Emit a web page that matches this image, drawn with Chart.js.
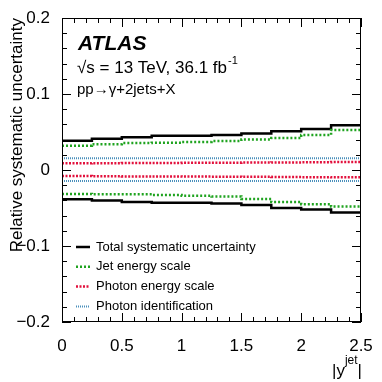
<!DOCTYPE html>
<html>
<head>
<meta charset="utf-8">
<script src="https://cdn.jsdelivr.net/npm/chart.js@4"></script>
<style>
  body { margin: 0; background: #fff; }
  #wrap { width: 382px; height: 382px; }
</style>
</head>
<body>
<div id="wrap"><canvas id="uncChart" width="382" height="382"></canvas></div>
<script>
// bin edges in |y^jet|
const binEdges = [0, 0.25, 0.5, 0.75, 1.0, 1.25, 1.5, 1.75, 2.0, 2.25, 2.5];

// per-bin relative uncertainties (up / down)
const totalUp   = [0.0386, 0.041, 0.043, 0.045, 0.045, 0.046, 0.048, 0.051, 0.054, 0.059];
const totalDown = [-0.0386, -0.040, -0.042, -0.043, -0.043, -0.044, -0.046, -0.050, -0.052, -0.056];
const jesUp     = [0.032, 0.034, 0.0355, 0.036, 0.037, 0.038, 0.040, 0.042, 0.046, 0.0526];
const jesDown   = [-0.0316, -0.032, -0.032, -0.033, -0.034, -0.035, -0.038, -0.042, -0.045, -0.048];
const pesUp     = [0.0088, 0.009, 0.0092, 0.0093, 0.0094, 0.0096, 0.0098, 0.010, 0.0102, 0.0105];
const pesDown   = [-0.008, -0.0082, -0.0084, -0.0086, -0.0087, -0.0088, -0.009, -0.0092, -0.0094, -0.0096];
const pidUp     = [0.0154, 0.0154, 0.0154, 0.0154, 0.0154, 0.0154, 0.0154, 0.0154, 0.0154, 0.0154];
const pidDown   = [-0.0145, -0.0145, -0.0145, -0.0145, -0.0145, -0.0145, -0.0145, -0.0145, -0.0145, -0.0145];

const yTickLabels = ['\u22120.2', '\u22120.1', '0', '0.1', '0.2'];
const xTickLabels = ['0', '0.5', '1', '1.5', '2', '2.5'];

const legendItems = [
  { text: 'Total systematic uncertainty', color: '#000000', dash: [], width: 2.5 },
  { text: 'Jet energy scale', color: '#1fa31f', dash: [2, 2], width: 2.5 },
  { text: 'Photon energy scale', color: '#e2103c', dash: [2, 1.5], width: 2.5 },
  { text: 'Photon identification', color: '#4a8fbb', dash: [1, 1], width: 2 }
];

function histPoints(vals) {
  const pts = vals.map((v, i) => ({ x: binEdges[i], y: v }));
  pts.push({ x: binEdges[binEdges.length - 1], y: vals[vals.length - 1] });
  return pts;
}

function ds(vals, style) {
  return {
    data: histPoints(vals),
    borderColor: style.color,
    borderWidth: style.width,
    borderDash: style.dash,
    stepped: 'before',
    pointRadius: 0,
    fill: false
  };
}

const datasets = [
  ds(pidUp, legendItems[3]), ds(pidDown, legendItems[3]),
  ds(pesUp, legendItems[2]), ds(pesDown, legendItems[2]),
  ds(jesUp, legendItems[1]), ds(jesDown, legendItems[1]),
  ds(totalUp, legendItems[0]), ds(totalDown, legendItems[0])
];

const FONT = '"Liberation Sans", Arial, Helvetica, sans-serif';

const frame = {
  id: 'frame',
  afterDraw(chart) {
    const { ctx, chartArea: a, scales: { x, y } } = chart;
    ctx.save();
    ctx.strokeStyle = '#000';
    ctx.lineWidth = 1;
    ctx.strokeRect(a.left + 0.5, a.top + 0.5, a.right - a.left - 1, a.bottom - a.top - 1);

    // inward ticks on all four sides
    ctx.beginPath();
    for (let i = 0; i <= 25; i++) {
      const px = Math.round(x.getPixelForValue(i * 0.1)) + 0.5;
      const len = (i % 5 === 0) ? 9 : 5;
      ctx.moveTo(px, a.bottom); ctx.lineTo(px, a.bottom - len);
      ctx.moveTo(px, a.top); ctx.lineTo(px, a.top + len);
    }
    for (let i = 0; i <= 20; i++) {
      const py = Math.round(y.getPixelForValue(-0.2 + i * 0.02)) + 0.5;
      const len = (i % 5 === 0) ? 9 : 5;
      ctx.moveTo(a.left, py); ctx.lineTo(a.left + len, py);
      ctx.moveTo(a.right, py); ctx.lineTo(a.right - len, py);
    }
    ctx.stroke();

    // ATLAS labels
    ctx.fillStyle = '#000';
    ctx.textBaseline = 'alphabetic';
    ctx.textAlign = 'left';
    ctx.font = 'italic bold 21px ' + FONT;
    ctx.fillText('ATLAS', 78, 50);
    ctx.font = '17px ' + FONT;
    ctx.fillText('\u221As = 13 TeV, 36.1 fb', 77, 73);
    const w = ctx.measureText('\u221As = 13 TeV, 36.1 fb').width;
    ctx.font = '11px ' + FONT;
    ctx.fillText('-1', 77 + w + 1, 64);
    ctx.font = '15px ' + FONT;
    ctx.fillText('pp\u2192\u03b3+2jets+X', 77, 94);

    // legend
    legendItems.forEach((it, i) => {
      const ly = 247 + i * 19.8;
      ctx.beginPath();
      ctx.strokeStyle = it.color;
      ctx.lineWidth = it.width;
      ctx.setLineDash(it.dash);
      ctx.moveTo(76, ly); ctx.lineTo(90, ly);
      ctx.stroke();
      ctx.setLineDash([]);
      ctx.fillStyle = '#000';
      ctx.font = '13px ' + FONT;
      ctx.textBaseline = 'middle';
      ctx.fillText(it.text, 96, ly);
    });

    // x axis title |y^jet|
    ctx.textBaseline = 'alphabetic';
    ctx.textAlign = 'right';
    ctx.font = '17px ' + FONT;
    ctx.fillText('|', 362, 376);
    const bw = ctx.measureText('|').width;
    ctx.font = '12px ' + FONT;
    ctx.fillText('jet', 362 - bw, 364);
    const jw = ctx.measureText('jet').width;
    ctx.font = '17px ' + FONT;
    ctx.fillText('|y', 362 - bw - jw, 376);

    // y axis title
    ctx.translate(22, a.top);
    ctx.rotate(-Math.PI / 2);
    ctx.textAlign = 'right';
    ctx.textBaseline = 'alphabetic';
    ctx.font = '17px ' + FONT;
    ctx.fillText('Relative systematic uncertainty', 0, 0);
    ctx.restore();
  }
};

new Chart(document.getElementById('uncChart').getContext('2d'), {
  type: 'line',
  data: { datasets: datasets },
  options: {
    responsive: false,
    animation: false,
    layout: { padding: { top: 18, right: 21, left: 0, bottom: 0 } },
    plugins: { legend: { display: false }, tooltip: { enabled: false } },
    scales: {
      x: {
        type: 'linear',
        min: 0, max: 2.5,
        grid: { display: false },
        border: { display: false },
        afterFit(s) { s.height = 60; },
        afterBuildTicks(s) { s.ticks = xTickLabels.map(t => ({ value: parseFloat(t) })); },
        ticks: {
          color: '#000',
          padding: 6,
          maxRotation: 0,
          font: { family: FONT, size: 17 },
          callback: (v, i) => xTickLabels[i]
        }
      },
      y: {
        type: 'linear',
        min: -0.2, max: 0.2,
        grid: { display: false },
        border: { display: false },
        afterFit(s) { s.width = 62; },
        afterBuildTicks(s) { s.ticks = yTickLabels.map(t => ({ value: parseFloat(t.replace('\u2212', '-')) })); },
        ticks: {
          color: '#000',
          padding: 4,
          font: { family: FONT, size: 17 },
          callback: (v, i) => yTickLabels[i]
        }
      }
    }
  },
  plugins: [frame]
});
</script>
</body>
</html>
